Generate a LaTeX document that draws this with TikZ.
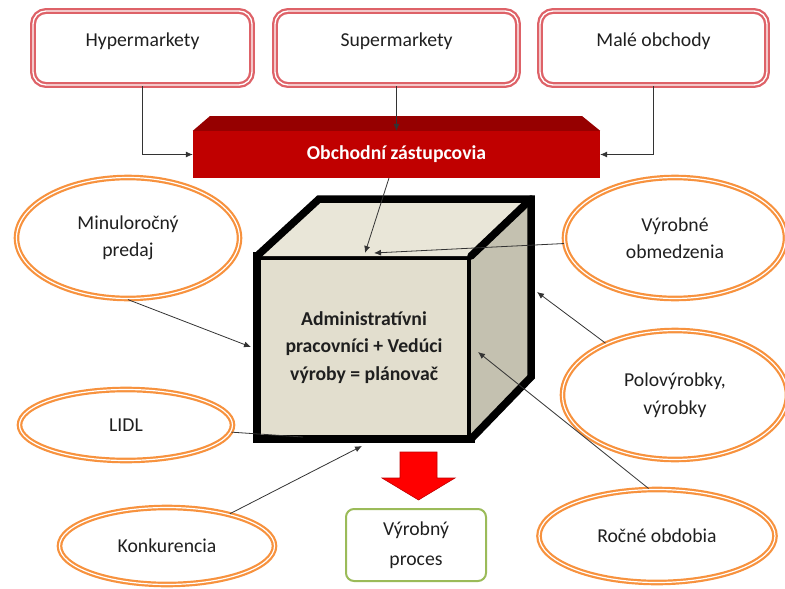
\documentclass[tikz,border=0pt]{standalone}
\usepackage{fontspec}
\setmainfont{Carlito}
\usetikzlibrary{shapes.geometric,arrows.meta}

\definecolor{boxred}{RGB}{222,98,104}
\definecolor{ovalorange}{RGB}{247,146,62}
\definecolor{blockred}{RGB}{192,0,0}
\definecolor{blocktop}{RGB}{150,0,0}
\definecolor{cubefront}{RGB}{226,222,206}
\definecolor{cubetop}{RGB}{233,230,216}
\definecolor{cubeside}{RGB}{196,193,176}
\definecolor{procgreen}{RGB}{155,187,89}
\newcommand{\diafont}{\fontsize{19.7}{27.5}\selectfont}

\tikzset{
    conn/.style={draw=black!80, line width=0.8pt, -{Latex[length=7pt,width=6pt]}},
}

\begin{document}
\begin{tikzpicture}[x=1pt, y=-1pt, font=\diafont, text=black!88]
\useasboundingbox (0,0) rectangle (785,589);
\begin{scope}[every node/.style={rectangle, rounded corners=13pt, draw=boxred, double=white, line width=2.3pt, double distance=1.3pt, inner sep=0pt, minimum height=74pt, text depth=16pt}]
    \node[minimum width=219pt] (hyper) at (142.5,48) {Hypermarkety};
    \node[minimum width=243pt] (super) at (396.5,48) {Supermarkety};
    \node[minimum width=227pt] (male) at (653.5,48) {Malé obchody};
\end{scope}
\node[fill=blockred, text=white, font=\diafont\bfseries, minimum width=407pt, minimum height=47pt, inner sep=0pt] (zast) at (396.5,154.5) {Obchodní zástupcovia};
\fill[blocktop] (zast.north west) -- (210,116) -- (582,116) -- (zast.north east) -- cycle;
\begin{scope}[every node/.style={ellipse, draw=ovalorange, double=white, line width=2.2pt, double distance=1.2pt, inner sep=0pt, align=center}]
    \node[minimum width=223pt, minimum height=121pt] (minul) at (128,238) {Minuloročný\\predaj};
    \node[minimum width=221pt, minimum height=121pt] (obmedz) at (675,238) {Výrobné\\obmedzenia};
    \node[minimum width=225pt, minimum height=129pt] (polov) at (675,395) {Polovýrobky,\\výrobky};
    \node[minimum width=213pt, minimum height=71pt] (lidl) at (126,425) {LIDL};
    \node[minimum width=215pt, minimum height=77pt] (konk) at (167,546) {Konkurencia};
    \node[minimum width=236pt, minimum height=93pt] (rocne) at (657,536) {Ročné obdobia};
\end{scope}
% kocka
\node[rectangle, fill=cubefront, draw=black, line width=7.5pt, outer sep=0pt, minimum width=214pt, minimum height=183pt, align=center, font=\diafont\bfseries] (cube) at (364,347.5) {Administratívni\\pracovníci + Vedúci\\výroby = plánovač};
\fill[cubetop] (cube.north west) -- (319,199) -- (531,199) -- (cube.north east) -- cycle;
\fill[cubeside] (cube.north east) -- (531,199) -- (531,377) -- (cube.south east) -- cycle;
\draw[line width=7.5pt, line join=miter, line cap=round] (cube.north west) -- (319,199) -- (531,199) -- (531,377) -- (cube.south east);
\draw[line width=7.5pt, line cap=round] (cube.north east) -- (531,199);
\coordinate (ctop) at (365,253);
\coordinate (ctopb) at (374,253);
\coordinate (csidea) at (537,292);
\coordinate (csideb) at (478,352);
\coordinate (cleft) at (251,347);
\coordinate (cbot) at (362,446);
\coordinate (cfront) at (303,437);
\node[rectangle, rounded corners=8pt, draw=procgreen, line width=2pt, minimum width=140pt, minimum height=72pt, align=center] (proces) at (416,545) {Výrobný\\[3pt]proces};
\filldraw[fill=red, draw=red!75!black, line width=0.6pt] (400,452) -- (437,452) -- (437,478) -- (455,478) -- (418.5,500) -- (382,478) -- (400,478) -- cycle;
\draw[conn] (hyper) |- (zast);
\draw[conn] (male) |- (zast);
\begin{scope}[every edge/.style={conn}]
    \path (super) edge (zast);
    \path (zast) edge (ctop);
    \path (obmedz) edge (ctopb);
    \path (polov) edge (csidea);
    \path (rocne.100) edge (csideb);
    \path (minul.south) edge (cleft);
    \path (konk) edge (cbot);
    \path (lidl) edge[-] (cfront);
\end{scope}
\end{tikzpicture}
\end{document}
